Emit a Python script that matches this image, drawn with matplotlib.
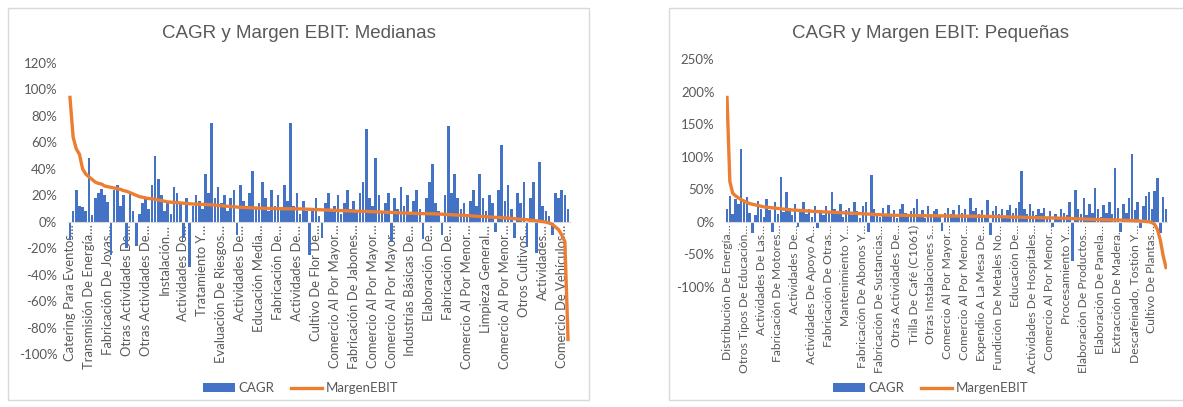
import numpy as np
import matplotlib
matplotlib.use("Agg")
import matplotlib.pyplot as plt
from matplotlib.patches import Rectangle, Patch
from matplotlib.lines import Line2D
from matplotlib.ticker import FuncFormatter

plt.rcParams['font.family'] = ['Lato', 'DejaVu Sans']

# --- Medianas ---
med_labels = ["Catering Para Eventos…", "Transmisión De Energía…", "Fabricación De Joyas…",
              "Otras Actividades De…", "Otras Actividades De…", "Instalación…",
              "Actividades De…", "Tratamiento Y…", "Evaluación De Riesgos…",
              "Actividades De…", "Educación Media…", "Fabricación De…",
              "Actividades De…", "Cultivo De Flor De…", "Comercio Al Por Mayor…",
              "Fabricación De Jabones…", "Comercio Al Por Mayor…", "Comercio Al Por Mayor…",
              "Industrias Básicas De…", "Elaboración De…", "Fabricación De…",
              "Comercio Al Por Menor…", "Limpieza General…", "Comercio Al Por Menor…",
              "Otros Cultivos…", "Actividades…", "Comercio De Vehículos…"]

med_cagr = [-14, 8, 24, 12, 11, 8, 48, 5, 18, 22,
            25, 20, 15, -25, 24, 28, 12, 20, -20, 22,
            8, -18, 6, 14, 18, 10, 28, 50, 32, 20,
            8, 16, 6, 26, 22, 14, -12, 18, -34, 12,
            20, 16, 10, 36, 22, 75, 18, 26, 14, 20,
            8, 18, 24, -10, 28, 16, 12, 22, 38, 10,
            14, 30, 18, 8, 24, 12, 20, 10, 28, 16,
            75, 12, 22, 6, 16, 8, -25, 10, 18, 4,
            -12, 14, 22, 8, 12, 20, 6, 14, 24, 10,
            16, 8, 22, 30, 70, 18, 12, 48, 20, 8,
            14, 22, -15, 18, 10, 26, 12, 20, 6, 16,
            24, 10, -13, 18, 30, 44, 14, 8, -10, 20,
            72, 22, 36, 18, 10, 14, 6, 16, 24, 12,
            36, 18, 8, 20, 14, -8, 24, 58, 16, 28,
            10, -12, 22, 14, 30, -19, 18, 30, -24, 45,
            12, 8, 4, -10, 22, 18, 24, 20, 10]

med_margen = [94, 64, 55, 51, 40, 36, 34, 32, 30, 29,
              28.5, 27, 26.5, 26, 25.5, 25, 24.5, 23.5, 23, 22,
              21, 20, 19, 18.5, 18, 17.5, 17.4, 17, 16.5, 16,
              15.5, 15, 14.8, 14.6, 14.4, 14.2, 14, 13.8, 13.6, 13.4,
              13.3, 13.2, 13.1, 13, 12.9, 12.7, 12.5, 12.3, 12.1, 11.9,
              11.7, 11.5, 11.3, 11.1, 10.9, 10.8, 10.7, 10.6, 10.5, 10.4,
              10.3, 10.2, 10.1, 10.0, 10.0, 9.9, 9.9, 9.9, 9.8, 9.8,
              9.8, 9.8, 9.7, 9.7, 9.6, 9.5, 9.4, 9.3, 9.2, 9.1,
              9.0, 8.9, 8.8, 8.7, 8.6, 8.5, 8.4, 8.3, 8.2, 8.1,
              8.0, 8.0, 7.9, 7.9, 7.8, 7.7, 7.6, 7.5, 7.4, 7.3,
              7.2, 7.1, 7.0, 6.9, 6.8, 6.7, 6.6, 6.5, 6.4, 6.3,
              6.2, 6.2, 6.1, 6.1, 6.0, 6.0, 5.9, 5.8, 5.7, 5.5,
              5.4, 5.3, 5.1, 5.0, 4.9, 4.7, 4.6, 4.5, 4.3, 4.1,
              4.0, 3.9, 3.8, 3.6, 3.5, 3.3, 3.2, 3.0, 2.9, 2.7,
              2.5, 2.3, 2.1, 1.9, 1.7, 1.5, 1.2, 1.0, 0.7, 0.4,
              0.1, -0.3, -1.0, -2.0, -4.0, -6.0, -10.0, -15.0, -89.0]

# --- Pequeñas ---
peq_labels = ["Distribución De Energía…", "Otros Tipos De Educación…", "Actividades De Las…",
              "Fabricación De Motores…", "Actividades De…", "Actividades De Apoyo A…",
              "Fabricación De Otras…", "Mantenimiento Y…", "Fabricación De Abonos Y…",
              "Fabricación De Sustancias…", "Otras Actividades De…", "Trilla De Café (C1061)",
              "Otras Instalaciones s…", "Comercio Al Por Mayor…", "Comercio Al Por Menor…",
              "Expendio A La Mesa De…", "Fundición De Metales No…", "Educación De…",
              "Actividades De Hospitales…", "Comercio Al Por Menor…", "Procesamiento Y…",
              "Elaboración De Productos…", "Elaboración De Panela…", "Extracción De Madera…",
              "Descafeinado, Tostión Y…", "Cultivo De Plantas…"]

peq_cagr = [20, 40, 12, 35, 28, 112, 30, 38, 14, -17,
            10, 32, 20, 8, 35, 18, -15, 30, 12, 69,
            15, 46, 22, 10, 28, -8, 16, 30, 12, 20,
            8, 24, -10, 18, 10, 25, 14, 46, 20, 12,
            28, 8, 18, 22, 10, 30, 16, 6, 24, 30,
            -15, 72, 20, 14, 8, 22, 12, 26, 10, 18,
            6, 20, 28, 14, 8, 16, 22, 35, 12, 18,
            6, 24, 10, 16, 20, 8, -14, 14, 22, 12,
            18, 8, 26, 14, 20, 10, 37, 16, 22, 12,
            18, 10, 34, -20, 16, 24, 12, 20, 8, 18,
            26, 14, 22, 30, 78, 20, 12, 28, 16, 10,
            20, 14, 22, 8, 16, -8, 12, 6, 20, 14,
            10, 30, -60, 49, 20, 12, 36, 10, 28, 14,
            52, 20, 8, 26, 14, 30, 12, 82, 22, -15,
            28, 14, 36, 104, 18, 30, -10, 24, 40, 46,
            20, 48, 67, -17, 38, 20]

peq_margen = [191, 62, 44, 40, 37, 34, 32, 30, 28, 27,
              26, 25, 24, 23, 22.5, 22, 21.5, 21, 20.5, 20,
              19.5, 19, 18.6, 18.2, 18, 17.7, 17.4, 17.1, 16.8, 16.5,
              16.2, 16, 15.8, 15.6, 15.4, 15.2, 15, 14.8, 14.6, 14.4,
              14.2, 14, 13.8, 13.6, 13.4, 13.2, 13, 12.8, 12.5, 12.2,
              12, 11.7, 11.4, 11.1, 10.9, 10.7, 10.5, 10.3, 10.1, 10.0,
              10.0, 9.9, 9.9, 9.8, 9.8, 9.7, 9.7, 9.6, 9.6, 9.5,
              9.5, 9.4, 9.4, 9.3, 9.3, 9.2, 9.2, 9.1, 9.1, 9.0,
              9.0, 8.9, 8.9, 8.8, 8.8, 8.7, 8.7, 8.6, 8.6, 8.5,
              8.5, 8.4, 8.3, 8.2, 8.1, 8.0, 7.9, 7.8, 7.7, 7.6,
              7.5, 7.4, 7.3, 7.2, 7.1, 7.0, 6.9, 6.8, 6.7, 6.6,
              6.5, 6.4, 6.3, 6.2, 6.1, 6.0, 5.9, 5.8, 5.6, 5.5,
              5.4, 5.2, 5.0, 4.9, 4.7, 4.5, 4.3, 4.2, 4.0, 3.8,
              3.7, 3.6, 3.5, 3.4, 3.3, 3.2, 3.1, 3.0, 2.9, 2.8,
              2.6, 2.4, 2.2, 2.0, 1.8, 1.5, 1.2, 0.9, 0.6, 0.2,
              -1, -4, -12, -28, -52, -70]

BLUE = '#4472C4'
ORANGE = '#ED7D31'
GREY_TXT = '#595959'
W, H = 1183, 407


def px_box(x0, y0, x1, y1):
    # pixel box (top-left origin) -> figure fraction [l, b, w, h]
    return [x0 / W, 1 - y1 / H, (x1 - x0) / W, (y1 - y0) / H]


def panel(fig, box, frame, title, title_x, labels, cagr, margen, ylim, step, leg_x, xfs):
    fig.patches.append(Rectangle((frame[0] / W, 1 - frame[3] / H),
                                 (frame[2] - frame[0]) / W, (frame[3] - frame[1]) / H,
                                 transform=fig.transFigure, fill=False,
                                 edgecolor='#D9D9D9', lw=1.0, zorder=0))
    fig.text(title_x / W, 1 - 33 / H, title, ha='center', va='center',
             fontsize=13.5, color=GREY_TXT, family='Liberation Sans')

    ax = fig.add_axes(px_box(*box))
    n = len(cagr)
    x = np.arange(n)
    ax.bar(x, cagr, width=0.85, color=BLUE, lw=0, zorder=2)
    ax.plot(x, margen, color=ORANGE, lw=2.4, solid_joinstyle='round', zorder=3)
    ax.set_xlim(-0.5, n - 0.5)
    ax.set_ylim(*ylim)
    ax.set_yticks(np.arange(ylim[0], ylim[1] + 1, step))
    ax.yaxis.set_major_formatter(FuncFormatter(lambda v, p: f'{v:.0f}%'))
    ax.tick_params(axis='y', length=0, labelsize=9.5, labelcolor=GREY_TXT, pad=8)

    # only every sixth category carries a visible name
    ticks = np.arange(0, n, 6)[:len(labels)]
    ax.set_xticks(ticks, labels)
    ax.tick_params(axis='x', length=0, labelsize=xfs, labelcolor=GREY_TXT, pad=2,
                   labelrotation=90)
    for lab in ax.get_xticklabels():
        lab.set_ha('center')
        lab.set_va('top')
    for s in ['top', 'right', 'left']:
        ax.spines[s].set_visible(False)
    ax.spines['bottom'].set_position(('data', 0))
    ax.spines['bottom'].set_color('#D9D9D9')
    ax.patch.set_visible(False)

    handles = [Patch(facecolor=BLUE, edgecolor='none', label='CAGR'),
               Line2D([], [], color=ORANGE, lw=2.4, label='MargenEBIT')]
    fig.legend(handles=handles, loc='center', bbox_to_anchor=(leg_x / W, 1 - 388 / H),
               ncol=2, frameon=False, fontsize=9.5, labelcolor=GREY_TXT,
               handlelength=2.4, handleheight=0.6, columnspacing=1.2, handletextpad=0.3)
    return ax


fig = plt.figure(figsize=(W / 100, H / 100), dpi=100)
panel(fig, (68.4, 63, 569.6, 354), (8, 8, 589, 400), 'CAGR y Margen EBIT: Medianas', 299,
      med_labels, med_cagr, med_margen, (-100, 120), 20, 301, 9.4)
panel(fig, (725.6, 59, 1167.4, 287), (669, 8, 1200, 400), 'CAGR y Margen EBIT: Pequeñas', 930,
      peq_labels, peq_cagr, peq_margen, (-100, 250), 50, 931, 8.7)

fig.savefig('out.png', dpi=100)
